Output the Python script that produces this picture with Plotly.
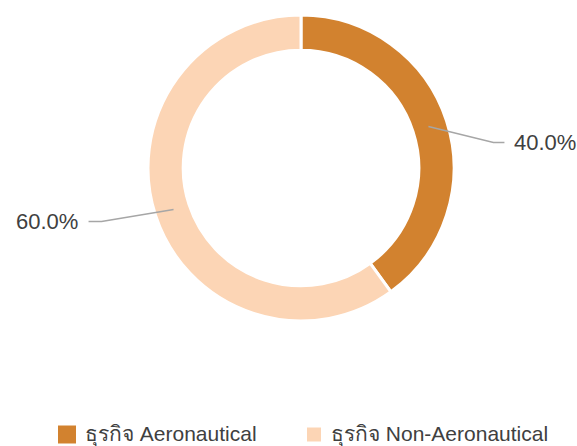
import math
import plotly.graph_objects as go

labels = ["ธุรกิจ Aeronautical", "ธุรกิจ Non-Aeronautical"]
values = [40.0, 60.0]
colors = ["#D2822F", "#FCD5B5"]

W, H = 577, 446
CX, CY, R = 301, 168, 153
HOLE = 0.77
TEXT_COLOR = "#404040"
FONT = "Liberation Sans, Arial, sans-serif"

def px(x):
    return x / W

def py(y):
    return 1 - y / H

fig = go.Figure()
fig.add_trace(go.Pie(
    labels=labels, values=values, hole=HOLE, sort=False,
    direction="clockwise", rotation=0,
    marker=dict(colors=colors, line=dict(color="white", width=3)),
    textinfo="none", hoverinfo="label+percent", showlegend=False,
    domain=dict(x=[px(CX - R), px(CX + R)], y=[py(CY + R), py(CY - R)]),
))

# label leader lines (positions of elbows/text are styling offsets)
elbow_off = [(65, 16), (-72, 12)]
tail_len = [11, -13]
text_gap = [8, -9]
total = sum(values)
cum = 0
shapes = []
annotations = []
r_line = 134
for i, v in enumerate(values):
    mid = (cum + v / 2) / total * 2 * math.pi
    cum += v
    sx = CX + r_line * math.sin(mid)
    sy = CY - r_line * math.cos(mid)
    ex, ey = sx + elbow_off[i][0], sy + elbow_off[i][1]
    tx = ex + tail_len[i]
    pts = f"M {px(sx)} {py(sy)} L {px(ex)} {py(ey)} L {px(tx)} {py(ey)}"
    shapes.append(dict(type="path", path=pts, xref="paper", yref="paper",
                       line=dict(color="#a6a6a6", width=1.5)))
    pct = f"{v / total * 100:.1f}%"
    annotations.append(dict(x=px(tx + text_gap[i]), y=py(ey), xref="paper", yref="paper",
                            text=pct, showarrow=False,
                            xanchor="left" if text_gap[i] > 0 else "right", yanchor="middle",
                            font=dict(size=22, color=TEXT_COLOR, family=FONT)))

# manual legend
leg_x = [58, 307]
leg_size = [18, 14]
leg_cy = 434.5
for i, lab in enumerate(labels):
    s = leg_size[i]
    shapes.append(dict(type="rect", xref="paper", yref="paper",
                       x0=px(leg_x[i]), x1=px(leg_x[i] + s),
                       y0=py(leg_cy + s / 2), y1=py(leg_cy - s / 2),
                       fillcolor=colors[i], line=dict(width=0)))
    annotations.append(dict(x=px(leg_x[i] + s + 7 if i == 0 else leg_x[i] + s + 8), y=py(leg_cy),
                            xref="paper", yref="paper", text=lab, showarrow=False,
                            xanchor="left", yanchor="middle",
                            font=dict(size=21, color=TEXT_COLOR, family=FONT)))

fig.update_layout(
    width=W, height=H, margin=dict(l=0, r=0, t=0, b=0),
    paper_bgcolor="white", plot_bgcolor="white",
    shapes=shapes, annotations=annotations,
)
fig.write_html("out.html", config={"displayModeBar": False},
               post_script="document.body.style.margin='0';document.body.style.overflow='hidden';")
